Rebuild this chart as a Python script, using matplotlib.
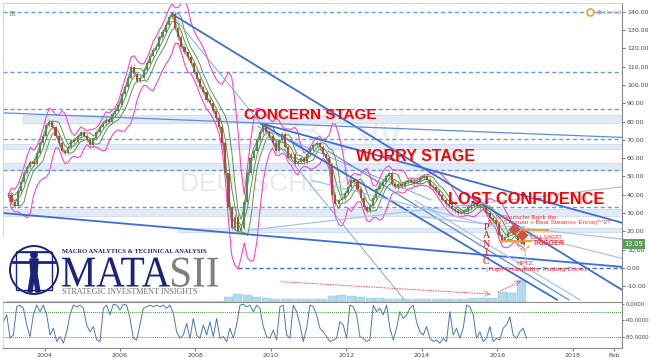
import matplotlib.pyplot as plt
import numpy as np
import pandas as pd
from matplotlib.patches import Rectangle, Circle, PathPatch
from matplotlib.textpath import TextPath
from matplotlib.font_manager import FontProperties
from matplotlib.transforms import blended_transform_factory, Affine2D

plt.rcParams['font.family'] = ['DejaVu Sans']

# monthly closes, Jan 2003 .. Sep 2016
closes = [
    40, 36, 34, 42, 47, 52, 55, 58, 57, 63, 68, 72,        # 2003
    78, 80, 77, 72, 68, 64, 63, 66, 70, 69, 72, 74,        # 2004
    72, 70, 67, 71, 74, 77, 79, 81, 80, 84, 86, 89,        # 2005
    95, 99, 104, 110, 106, 102, 104, 108, 112, 116, 119, 121,  # 2006
    126, 129, 133, 137, 139, 131, 126, 121, 118, 115, 112, 107,  # 2007
    103, 99, 96, 92, 90, 86, 82, 77, 68, 52, 33, 22,       # 2008
    28, 20, 22, 36, 52, 60, 64, 70, 74, 78, 74, 72,        # 2009
    68, 64, 70, 73, 66, 60, 62, 57, 58, 60, 58, 62,        # 2010
    65, 67, 68, 66, 62, 60, 56, 40, 35, 37, 38, 41,        # 2011
    44, 48, 47, 43, 38, 33, 31, 34, 38, 43, 45, 47,        # 2012
    50, 52, 46, 44, 46, 45, 47, 48, 47, 46, 47, 49,        # 2013
    50, 48, 45, 44, 42, 40, 37, 35, 34, 32, 31, 30,        # 2014
    30, 31, 33, 34, 35, 34, 33, 33, 30, 27, 26, 24,        # 2015
    18, 15, 17, 19, 20, 18, 14, 14, 13.1,                  # 2016
]
first_year = 2003

# quarterly volume (millions of shares / week), 2003 Q1 .. 2016 Q3
volume = [
    1.0, 1.2, 1.0, 0.9, 0.9, 1.0, 0.9, 0.8, 0.8, 0.9, 0.8, 0.9,
    1.0, 1.1, 1.0, 1.0, 1.2, 1.5, 1.8, 2.0, 2.5, 2.6, 3.0, 5.0,
    8.0, 7.5, 5.5, 4.0, 3.5, 3.5, 3.0, 2.8, 3.0, 3.2, 6.5, 7.0,
    6.0, 5.0, 4.2, 3.8, 3.5, 3.2, 3.0, 3.0, 3.0, 3.2, 3.3, 3.5,
    3.5, 3.6, 4.0, 4.5, 10.0, 9.0, 22.0,
]

# Williams %R, read at even steps from late 2002 to Sep 2016
williams = [
    -43, -26, -84, -76, -6, -2, -10, -51, -80, -26,
    -2, -18, -2, -26, -76, -59, -92, -80, -96, -68,
    -26, -2, -6, -2, -10, -51, -68, -55, -88, -92,
    -10, -2, -26, 0, -2, -14, 0, -2, -35, -84,
    -88, -51, -10, -6, -2, -6, -2, -6, -2, -10,
    -2, -22, -68, -84, -76, -47, -84, -35, -76, -84,
    -51, -76, -43, -80, -35, -84, -80, -92, -59, -84,
    -51, -2, 0, -6, -2, -18, -2, -10, -55, -80,
    -84, -64, -88, -6, -2, -76, -84, -2, -18, -51,
    -92, -59, -2, -6, -26, -59, -68, -80,
    -92, -88, -84, -43, -51, -84, -2, -6, -26,
    -80, -84, -92, -88, -2, -18, -10, -26, -2, -59,
    -88, -59, -18, -35, -26, -10, -2, -43, -68, -76,
    -55, -84, -92, -88, -96, -84, -92, -18, -76, -59,
    -84, -59, -2, -6, -26, -84, -68, -92, -84, -55,
    -92, -84, -88, -59, -51, -31, -76, -84, -68, -59, -84,
]
williams_span = (2002.91, 2016.77)

# support / resistance
dashed_levels = [139.7, 106.8, 86.6, 70.2, 53.6, 33.5]
zero_level_start = 2009.13
zones = [(2003.43, 79.0, 83.5), (2002.9, 64.7, 67.6), (2002.9, 53.4, 57.2),
         (2002.9, 28.3, 32.4), (2007.54, 19.7, 21.7)]

# trend lines: (x0, y0, x1, y1, style)
trendlines = [
    (2007.35, 139.1, 2019.31, -12.2, 'thick'),
    (2007.35, 139.1, 2013.54, -17.7, 'thin'),
    (2009.75, 78.9, 2019.31, 24.6, 'thick'),
    (2009.71, 79.1, 2017.60, -17.7, 'thick'),
    (2011.50, 64.0, 2017.90, -17.7, 'medium'),
    (2002.82, 30.1, 2019.31, 0.5, 'thick'),
    (2002.82, 84.8, 2019.31, 71.3, 'medium'),
    (2009.42, 20.6, 2019.31, 44.3, 'light'),
    (2013.96, 27.9, 2019.31, 15.7, 'light'),
    (2011.07, 47.9, 2019.31, 5.1, 'light'),
    (2013.80, 37.0, 2018.20, -17.7, 'light'),
    (2009.64, 77.3, 2014.25, 37.0, 'thin'),
]
line_styles = {'thick': ('#3a6fd8', 1.3), 'medium': ('#5a8ee0', 0.9),
               'thin': ('#6f9ce6', 0.6), 'light': ('#a9c3ec', 0.9)}

year_ticks = [2004, 2006, 2008, 2010, 2012, 2014, 2016, 2018, 2019.085]
year_labels = ['2004', '2006', '2008', '2010', '2012', '2014', '2016', '2018', 'Feb']
price_ticks = list(range(-10, 141, 10))
x_range = (2002.90, 2019.30)

W, H = 650, 358


def box(l, t, r, b):
    return [l / W, 1 - b / H, (r - l) / W, (b - t) / H]


def fitted_text(axis, text, x0, x1, baseline, cap, color, family='Liberation Serif'):
    # text drawn as a path, stretched to a given width and cap height (logo lettering)
    tp = TextPath((0, 0), text, size=1, prop=FontProperties(family=family))
    ext = tp.get_extents()
    tr = Affine2D().translate(-ext.x0, 0).scale((x1 - x0) / ext.width, -cap / ext.y1)
    tr = tr.translate(x0, baseline)
    axis.add_patch(PathPatch(tr.transform_path(tp), color=color, lw=0))


fig = plt.figure(figsize=(6.5, 3.58), dpi=100)

# volume pane behind the price pane
axv = fig.add_axes(box(3, 3, 622, 302), zorder=0)
qx = first_year + 0.125 + 0.25 * np.arange(len(volume))
axv.bar(qx, volume, width=0.24, color='#b2dcec', edgecolor='#8cc8de', linewidth=0.3)
axv.set_xlim(*x_range)
axv.set_ylim(0, 299)
axv.axis('off')

ax = fig.add_axes(box(3, 3, 622, 302), zorder=1)
ax.patch.set_alpha(0)
ax.set_xlim(*x_range)
ax.set_ylim(-18.7, 144.8)

# watermark
ax.text(2009.5, 72, 'DB, W', fontsize=38, color='#f0f0f0', family='Liberation Sans',
        ha='left', va='center', zorder=0)
ax.text(2007.6, 46, 'DEUTSCHE BANK AG', fontsize=19, color='#e9e9e9',
        family='Liberation Sans', ha='left', va='center', zorder=0)

# zones and dashed levels
for x0, lo, hi in zones:
    ax.add_patch(Rectangle((x0, lo), x_range[1] - x0, hi - lo, facecolor='#e1eaf6',
                           edgecolor='#c8d7ee', linewidth=0.5, zorder=0.5))
for lev in dashed_levels:
    ax.plot(x_range, [lev, lev], color='#6a9ae4', lw=1.0, ls=(0, (3, 2)), zorder=1)
ax.plot([zero_level_start, x_range[1]], [0, 0], color='#3a6fd8', lw=1.0,
        ls=(0, (3, 2)), zorder=1)

# price, moving averages, bands
s = pd.Series(closes, dtype=float)
mx = first_year + (np.arange(len(s)) + 0.5) / 12
ma2 = s.rolling(2, min_periods=1).mean()
ma4 = s.rolling(4, min_periods=1).mean()
sd4 = s.rolling(4, min_periods=1).std().fillna(0)
ma6 = s.rolling(6, min_periods=1).mean()
sd6 = s.rolling(6, min_periods=1).std().fillna(0)
green = '#5f9550'
for series in (ma2, ma4, ma4 + sd4, ma4 - sd4):
    ax.plot(mx, series, color=green, lw=0.7, zorder=2)
ax.plot(mx, ma6 + 2 * sd6, color='#ff44c4', lw=0.8, zorder=2)
ax.plot(mx, ma6 - 2 * sd6, color='#ff44c4', lw=0.8, zorder=2)

opens = s.shift(1).fillna(s.iloc[0])
up = s >= opens
ax.bar(mx[up], (s - opens)[up], bottom=opens[up], width=0.055, color='#4e8f4e', zorder=3)
ax.bar(mx[~up], (s - opens)[~up], bottom=opens[~up], width=0.055, color='#b5483a', zorder=3)
ax.vlines(mx, np.minimum(s, opens) - 1.2, np.maximum(s, opens) + 1.2, color='#8a6a5a',
          lw=0.4, zorder=2.9)

# trend lines
for x0, y0, x1, y1, st in trendlines:
    c, lw = line_styles[st]
    ax.plot([x0, x1], [y0, y1], color=c, lw=lw, zorder=2.5, solid_capstyle='butt')

# red dotted volume arrows
ax.annotate('', xy=(2015.9, -14.5), xytext=(2010.2, -7.5),
            arrowprops=dict(arrowstyle='->', color='#ff5050', lw=0.7, ls=':'), zorder=4)
ax.annotate('', xy=(2016.7, -6.5), xytext=(2015.95, -14.0),
            arrowprops=dict(arrowstyle='->', color='#ff5050', lw=0.7, ls=':'), zorder=4)

# annotations
red = '#ff0000'
ax.text(2009.29, 83.5, 'CONCERN STAGE', color=red, fontsize=11, weight='bold',
        family='Liberation Sans', va='center', zorder=6)
ax.text(2012.25, 60.6, 'WORRY STAGE', color=red, fontsize=11.5, weight='bold',
        family='Liberation Sans', va='center', zorder=6)
ax.text(2014.69, 37.5, 'LOST CONFIDENCE', color=red, fontsize=11.8, weight='bold',
        family='Liberation Sans', va='center', zorder=6)
ax.text(2015.7, 24.5, 'P\nA\nN\nI\nC', color=red, fontsize=7.2, family='Liberation Serif',
        ha='center', va='top', linespacing=0.92, zorder=6)
ax.text(2015.95, 27.4, 'Is Deutsche Bank the', color='#ff3030', fontsize=4.6,
        family='Liberation Sans', va='center', zorder=6)
ax.text(2015.75, 24.6, "EU's (Lehman + Bear Stearns+ Enron)^^2?", color='#ff3030',
        fontsize=4.6, family='Liberation Sans', va='center', zorder=6)
ax.plot([2016.5, 2017.35], [20.6, 20.6], color='#ff9a1a', lw=1.4, zorder=5)
ax.plot([2016.07, 2016.9], [14.6, 14.6], color='#ff9a1a', lw=1.4, zorder=5)
ax.plot([2016.52, 2016.7, 2016.86], [12.5, 8.8, 12.5], color='#ff9a1a', lw=1.0,
        ls=(0, (2, 1.5)), zorder=5)
ax.plot([2016.72, 2016.72], [8.0, 2.6], color='#ff9a1a', lw=0.8, ls=(0, (2, 1.5)), zorder=5)
ax.plot([2016.45, 2016.65], [21.0, 17.9], 'D', color='#cc5540', ms=5.5, zorder=5)
ax.text(2016.85, 16.6, 'SELL SHORT', color='#ff3030', fontsize=3.8, va='center', zorder=6)
ax.text(2016.95, 13.2, 'TRIGGER', color='#ff3030', fontsize=5, weight='bold',
        family='Liberation Sans', va='center', zorder=6)
ax.text(2016.73, 2.3, 'HPTZ', color='#ff3030', fontsize=4.6, ha='center', va='center', zorder=6)
ax.text(2017.02, -1.2, '(High Probability Trading Zone)', color='#ff3030', fontsize=4.6,
        ha='center', va='center', zorder=6)

# last price tag and status marker
bt = blended_transform_factory(ax.transAxes, ax.transData)
ax.text(1.004, closes[-1], '13.09', transform=bt, fontsize=4.8, color='white', va='center',
        ha='left', bbox=dict(boxstyle='square,pad=0.25', fc='#5c9e5c', ec='none'), zorder=7)
ax.plot([2018.45], [139.7], 'o', mfc='white', mec='#ff9a1a', ms=5, mew=1.2, zorder=7)
ax.text(2018.65, 139.7, '● closed', fontsize=4, color='#aaaaaa', va='center', zorder=7)
ax.text(0.008, 0.955, '⊞', transform=ax.transAxes, fontsize=6, color='#999999', zorder=7)

ax.set_yticks(price_ticks)
ax.set_yticklabels([f'{t:.2f}' for t in price_ticks])
ax.yaxis.tick_right()
ax.tick_params(axis='y', labelsize=4.5, colors='#444444', length=2, width=0.5, pad=1.5)
ax.set_xticks(year_ticks)
ax.tick_params(axis='x', length=0, labelbottom=False)
for k in ('top', 'left', 'bottom'):
    ax.spines[k].set_color('#d0d0d0')
    ax.spines[k].set_linewidth(0.6)
ax.spines['right'].set_color('#8a8a8a')
ax.spines['right'].set_linewidth(0.8)

# logo (1 unit = 1 pixel, y downwards)
axl = fig.add_axes(box(3, 238, 224, 301), zorder=2)
axl.set_xlim(0, 221)
axl.set_ylim(63, 0)
axl.axis('off')
axl.add_patch(Rectangle((0, 0), 221, 63, facecolor='white', edgecolor='none'))
navy = '#1b237a'
axl.add_patch(Circle((31, 32), 24, fill=False, edgecolor=navy, lw=1.4))
axl.add_patch(Rectangle((13, 14), 36, 38, fill=False, edgecolor=navy, lw=1.0))
axl.add_patch(Circle((31, 17), 3.2, color=navy))
axl.fill([27, 35, 34, 37, 33, 31, 29, 25, 28], [21, 21, 36, 54, 54, 40, 54, 54, 36], color=navy)
axl.plot([10, 52], [24, 24], color=navy, lw=2.0)
axl.plot([14, 48], [14, 14], color=navy, lw=1.2)
axl.text(59, 13.5, 'MACRO ANALYTICS & TECHNICAL ANALYSIS', fontsize=4.7, weight='bold',
         family='Liberation Serif', color=navy, va='center')
fitted_text(axl, 'MATA', 59, 167, 48.5, 29, navy)
fitted_text(axl, 'SII', 169, 215, 48.5, 29, '#7f7f7f')
axl.text(59, 54.5, 'STRATEGIC INVESTMENT INSIGHTS', fontsize=5.9, family='Liberation Serif',
         color='#6e6e6e', va='center')

# Williams %R pane
axo = fig.add_axes(box(3, 302, 622, 348), zorder=1)
ox = np.linspace(williams_span[0], williams_span[1], len(williams))
axo.plot(ox, williams, color='#4a78b5', lw=0.7)
axo.axhline(-20, color='#3c9a3c', lw=0.7, ls=(0, (1, 1)))
axo.axhline(-80, color='#e85050', lw=0.7, ls=(0, (1, 1)))
axo.set_xlim(*x_range)
axo.set_ylim(-108, 5.7)
axo.set_yticks([0, -40, -80])
axo.set_yticklabels(['0.0000', '-40.0000', '-80.0000'])
axo.yaxis.tick_right()
axo.tick_params(axis='y', labelsize=3.9, colors='#444444', length=1.5, width=0.5, pad=0.8)
axo.set_xticks(year_ticks)
axo.set_xticklabels(year_labels)
axo.tick_params(axis='x', labelsize=4.6, colors='#444444', length=2, width=0.5, pad=1.5)
axo.spines['left'].set_color('#d0d0d0')
axo.spines['left'].set_linewidth(0.6)
for k in ('top', 'bottom', 'right'):
    axo.spines[k].set_color('#8a8a8a')

fig.savefig('out.png', dpi=100)
plt.close()
